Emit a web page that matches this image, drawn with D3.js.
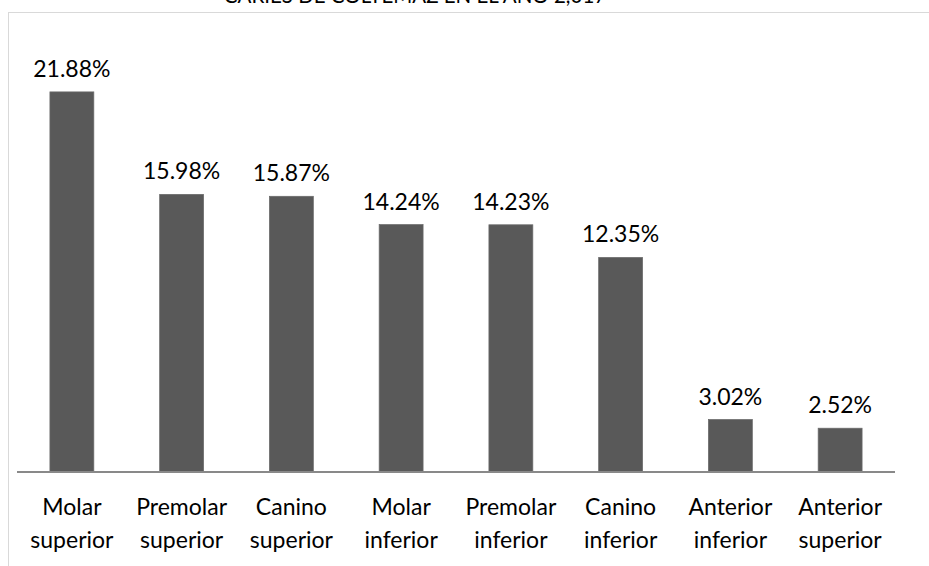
<!DOCTYPE html>
<html><head><meta charset="utf-8">
<script src="https://cdn.jsdelivr.net/npm/d3@7"></script>
<style>body{margin:0;background:#fff;} svg{display:block;}</style>
</head><body>
<svg id="c" width="929" height="566"></svg>
<script>
const title = "CARIES DE COLTEMAZ EN EL AÑO 2,017";
const categories = [["Molar","superior"],["Premolar","superior"],["Canino","superior"],["Molar","inferior"],["Premolar","inferior"],["Canino","inferior"],["Anterior","inferior"],["Anterior","superior"]];
const values = [21.88, 15.98, 15.87, 14.24, 14.23, 12.35, 3.02, 2.52];
const labels = ["21.88%","15.98%","15.87%","14.24%","14.23%","12.35%","3.02%","2.52%"];

const svg = d3.select("#c");
const font = "Lato, 'Open Sans', sans-serif";
// chart area border
svg.append("rect").attr("x",8.5).attr("y",12.5).attr("width",940).attr("height",600)
  .attr("fill","none").attr("stroke","#d9d9d9").attr("stroke-width",1);
svg.append("text").attr("x",415).attr("y",3).attr("text-anchor","middle")
  .attr("font-family",font).attr("font-size",20.5).attr("fill","#000").text(title);

const idx = d3.range(values.length);
const x = d3.scaleBand().domain(idx).range([17,895]).paddingInner(0.6).paddingOuter(0.3);
const y = d3.scaleLinear().domain([0,25]).range([472,37.7]);

svg.selectAll("rect.bar").data(idx).join("rect").attr("class","bar")
  .attr("x",i=>x(i)).attr("width",x.bandwidth())
  .attr("y",i=>y(values[i])).attr("height",i=>y(0)-y(values[i]))
  .attr("fill","#595959").attr("stroke","#6a6a6a").attr("stroke-width",0.75);

svg.append("line").attr("x1",17).attr("x2",895).attr("y1",472).attr("y2",472)
  .attr("stroke","#898989").attr("stroke-width",2);

svg.selectAll("text.val").data(idx).join("text").attr("class","val")
  .attr("x",i=>x(i)+x.bandwidth()/2).attr("y",i=>y(values[i])-15)
  .attr("text-anchor","middle").attr("font-family",font).attr("font-size",23).attr("fill","#000")
  .text(i=>labels[i]);

const cat = svg.selectAll("text.cat").data(idx).join("text").attr("class","cat")
  .attr("text-anchor","middle").attr("font-family",font).attr("font-size",23).attr("fill","#000");
cat.append("tspan").attr("x",i=>x(i)+x.bandwidth()/2).attr("y",515).text(i=>categories[i][0]);
cat.append("tspan").attr("x",i=>x(i)+x.bandwidth()/2).attr("y",548).text(i=>categories[i][1]);
</script>
</body></html>
